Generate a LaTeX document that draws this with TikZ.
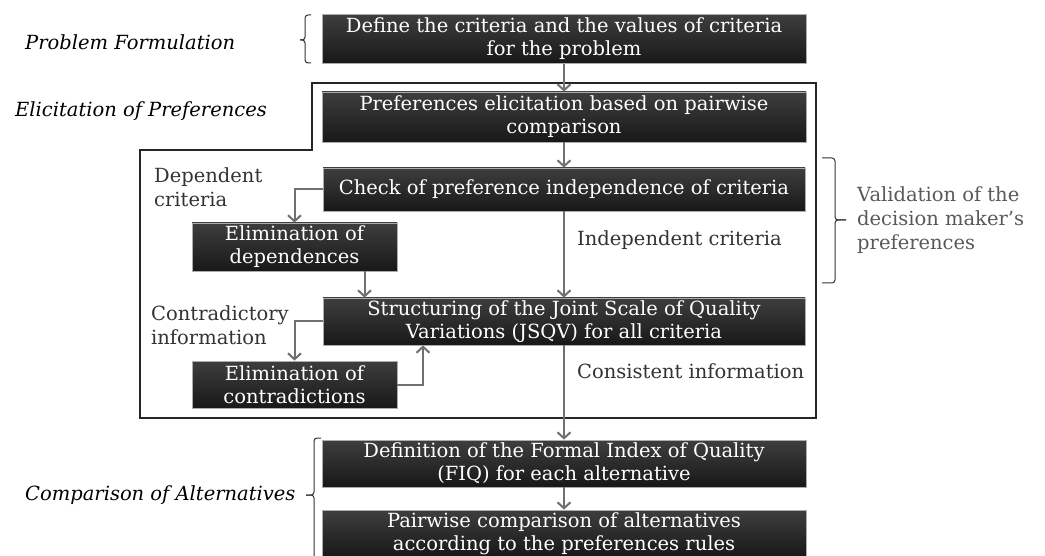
\documentclass[tikz,border=0pt]{standalone}
\usepackage{fontspec}
\setmainfont{DejaVu Serif}
\usetikzlibrary{arrows.meta}
\definecolor{arrowgray}{RGB}{112,112,112}
\definecolor{boxtop}{RGB}{62,62,62}
\definecolor{boxbot}{RGB}{24,24,24}
\begin{document}
\begin{tikzpicture}[x=1pt,y=-1pt,
  box/.style={draw=gray!65, line width=0.8pt, top color=boxtop, bottom color=boxbot,
    text=white, align=center, inner sep=0pt, font=\fontsize{19.5}{23}\selectfont},
  flow/.style={draw=arrowgray, line width=2pt, -{Straight Barb[length=6pt,width=13pt]}},
  lbl/.style={font=\fontsize{19.5}{24}\selectfont, text=black!80, align=left, inner sep=0pt},
  phase/.style={font=\fontsize{19.5}{22}\selectfont\itshape, text=black, inner sep=0pt, anchor=west},
  brace/.style={draw=black!80, line width=1pt, rounded corners=3pt},
  frame/.style={draw=black!85, line width=1.6pt}
]
\clip (0,0) rectangle (1045,556);
\fill[white] (0,0) rectangle (1045,556);

% boxes
\node[box, minimum width=484pt, minimum height=49pt] (b1) at (564,39)
  {Define the criteria and the values of criteria\\for the problem};
\node[box, minimum width=484pt, minimum height=50pt] (b2) at (564,117)
  {Preferences elicitation based on pairwise\\comparison};
\node[box, minimum width=482pt, minimum height=43pt] (b3) at (564,189.5)
  {Check of preference independence of criteria};
\node[box, minimum width=205pt, minimum height=48pt] (ed) at (294.5,247)
  {Elimination of\\dependences};
\node[box, minimum width=482pt, minimum height=47pt] (st) at (564,321.5)
  {Structuring of the Joint Scale of Quality\\Variations (JSQV) for all criteria};
\node[box, minimum width=205pt, minimum height=47pt] (ec) at (294.5,384.5)
  {Elimination of\\contradictions};
\node[box, minimum width=484pt, minimum height=47pt] (df) at (564,463.5)
  {Definition of the Formal Index of Quality\\(FIQ) for each alternative};
\node[box, minimum width=484pt, minimum height=47pt] (pw) at (564,533.5)
  {Pairwise comparison of alternatives\\according to the preferences rules};

% frame
\draw[frame] (312,83) -- (816,83) -- (816,418) -- (140,418) -- (140,150) -- (312,150) -- cycle;

% connectors
\draw[flow] (b1.south) -- (b2.north);
\draw[flow] (b2.south) -- (b3.north);
\draw[flow] (b3.west) -| (ed.north);
\draw[flow] ([xshift=70pt]ed.south) -- ([xshift=70pt]ed.south |- st.north);
\draw[flow] (b3.south) -- (st.north);
\draw[flow] (st.west) -| (ec.north);
\draw[flow] (ec.east) -| ([xshift=-141pt]st.south);
\draw[flow] (st.south) -- (df.north);
\draw[flow] (df.south) -- (pw.north);

% labels
\node[lbl, anchor=west] (ind) at (577,240) {Independent criteria};
\node[lbl, anchor=west] (con) at (577,371) {Consistent information};
\node[lbl, anchor=north west] (dep) at (154,167) {Dependent\\criteria};
\node[lbl, anchor=north west] (ctr) at (151,305) {Contradictory\\information};
\node[lbl, anchor=north west, text=black!65] (val) at (857,186)
  {Validation of the\\decision maker’s\\preferences};

\node[phase] (pf) at (25,42) {Problem Formulation};
\node[phase] (ep) at (15,111) {Elicitation of Preferences};
\node[phase] (ca) at (25,495) {Comparison of Alternatives};

% braces
\draw[brace] (311,15) -- (305,15) -- (305,40) -- (300,40);
\draw[brace] (300,40) -- (305,40) -- (305,63) -- (311,63);
\draw[brace] (822,158) -- (835,158) -- (835,220) -- (846,220);
\draw[brace] (846,220) -- (835,220) -- (835,283) -- (822,283);
\draw[brace] (321,438) -- (314,438) -- (314,495) -- (306,495);
\draw[brace] (306,495) -- (314,495) -- (314,560) -- (321,560);
\end{tikzpicture}
\end{document}
